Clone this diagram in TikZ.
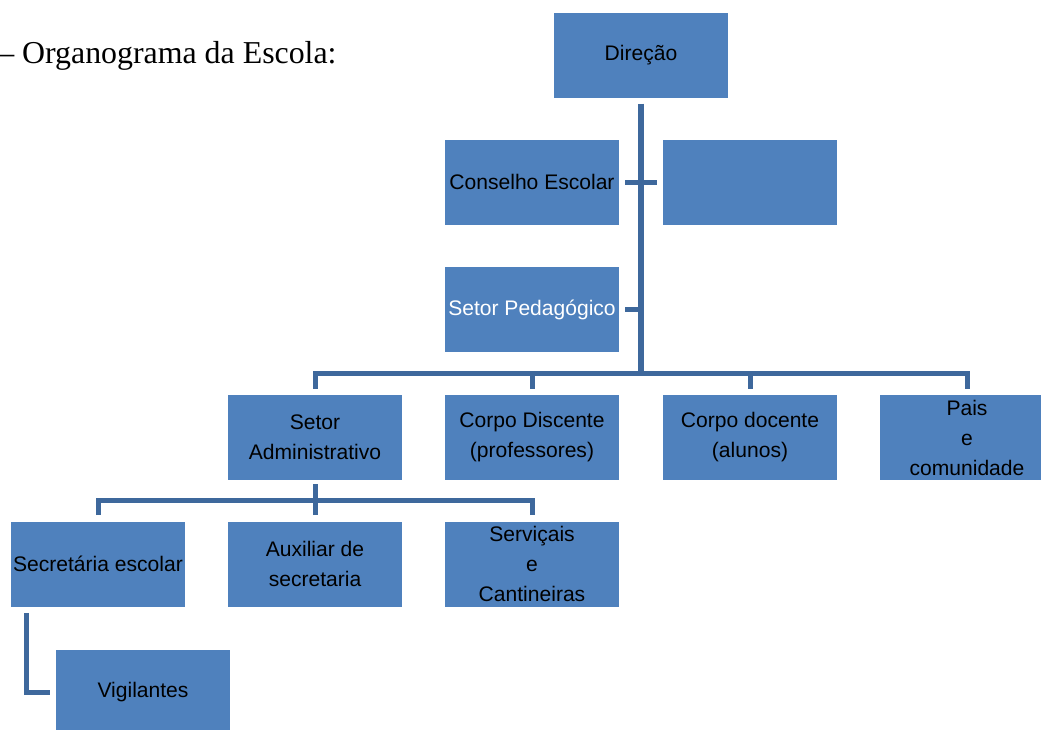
\documentclass[tikz,border=0pt]{standalone}
\usepackage{fontspec}
\setmainfont{Liberation Serif}
\newfontfamily\boxfont{Liberation Sans}
\usetikzlibrary{positioning}
\definecolor{boxblue}{RGB}{79,129,189}
\definecolor{lineblue}{RGB}{62,104,156}

\begin{document}
\begin{tikzpicture}[x=0.75pt, y=-0.75pt,
    unit/.style={rectangle, fill=boxblue, minimum width=130.5pt, minimum height=63.75pt,
      inner sep=0pt, align=center, font=\boxfont\fontsize{15.8}{22.5}\selectfont},
    link/.style={draw=lineblue, line width=3.75pt},
    trunk/.style={draw=lineblue, line width=4.5pt}]
    \useasboundingbox (0,0) rectangle (1041,729);

    % Title
    \node[anchor=base west, inner sep=0pt, font=\fontsize{23.9}{28}\selectfont] (title) at (-2,63) {-- Organograma da Escola:};

    % Top of the school
    \node[unit] (dir) at (641,55.5) {Direção};
    \node[unit] (cons) at (532,182) {Conselho Escolar};
    \node[unit] (blank) at (750,182) {};
    \node[unit, text=white] (ped) at (532,309.5) {Setor Pedagógico};

    % Second level
    \node[unit] (adm) at (315,437.5) {Setor\\Administrativo};
    \node[unit] (disc) at (532,437.5) {Corpo Discente\\(professores)};
    \node[unit] (doc) at (750,437.5) {Corpo docente\\(alunos)};
    \node[unit] (pais) at (967,437.5) {Pais\\e\\comunidade};

    % Third level
    \node[unit] (sec) at (98,564) {Secretária escolar};
    \node[unit] (aux) at (315,564) {Auxiliar de\\secretaria};
    \node[unit] (serv) at (532,564) {Serviçais\\e\\Cantineiras};
    \node[unit] (vig) at (143,692) {Vigilantes};

    \coordinate (bus) at (641,373);
    \coordinate (sub) at (315,500);

    % Main trunk
    \draw[trunk] ([yshift=-4pt]dir.south) -- (bus);
    \draw[link] ([xshift=4.5pt]cons.east) -- ([xshift=-4.5pt]blank.west);
    \draw[link] ([xshift=4.5pt]ped.east) -- (ped.east -| bus);

    % Bus to second level
    \draw[link] ([yshift=4.5pt]adm.north) |- (bus) -| ([yshift=4.5pt]pais.north);
    \foreach \n in {disc,doc}
        \draw[link] ([yshift=4.5pt]\n.north) -- (\n.north |- bus);

    % Administrative branch
    \draw[link] ([yshift=-3pt]adm.south) -- (sub);
    \draw[link] ([yshift=4.5pt]sec.north) |- (sub) -| ([yshift=4.5pt]serv.north);
    \draw[link] ([yshift=4.5pt]aux.north) -- (aux.north |- sub);
    \draw[link] ([xshift=-54pt,yshift=-4.5pt]sec.south) |- ([xshift=-4.5pt]vig.west);
\end{tikzpicture}
\end{document}
